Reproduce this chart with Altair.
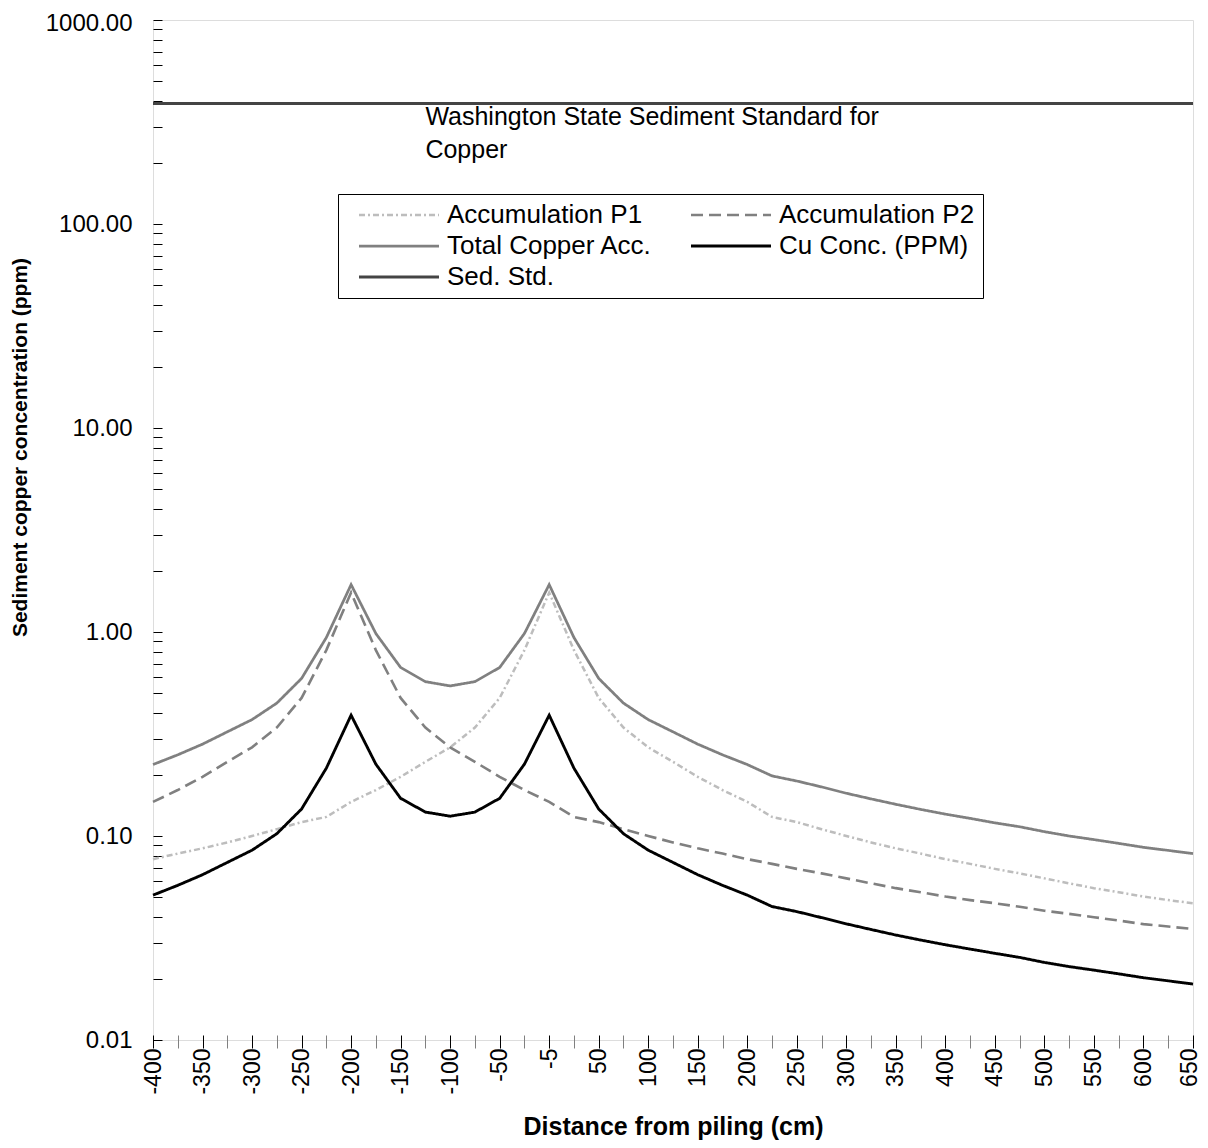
import altair as alt
import pandas as pd

# Distance categories (cm) along the x axis
distances = ["-400", "-375", "-350", "-325", "-300", "-275", "-250", "-225", "-200",
             "-175", "-150", "-125", "-100", "-75", "-50", "-25", "-5", "25", "50",
             "75", "100", "125", "150", "175", "200", "225", "250", "275", "300",
             "325", "350", "375", "400", "425", "450", "475", "500", "525", "550",
             "575", "600", "625", "650"]
labeled = ["-400", "-350", "-300", "-250", "-200", "-150", "-100", "-50", "-5", "50",
           "100", "150", "200", "250", "300", "350", "400", "450", "500", "550", "600", "650"]

acc_p1 = [0.077, 0.082, 0.087, 0.093, 0.100, 0.108, 0.117, 0.124, 0.147, 0.168, 0.195,
          0.231, 0.272, 0.340, 0.475, 0.815, 1.56, 0.815, 0.475, 0.340, 0.272, 0.231,
          0.195, 0.168, 0.147, 0.124, 0.117, 0.108, 0.100, 0.093, 0.087, 0.082, 0.077,
          0.073, 0.069, 0.0656, 0.062, 0.0586, 0.0555, 0.053, 0.0505, 0.0485, 0.0468]
acc_p2 = [0.147, 0.168, 0.195, 0.231, 0.272, 0.340, 0.475, 0.815, 1.56, 0.815, 0.475,
          0.340, 0.272, 0.231, 0.195, 0.168, 0.147, 0.124, 0.117, 0.108, 0.100, 0.093,
          0.087, 0.082, 0.077, 0.073, 0.069, 0.0656, 0.062, 0.0586, 0.0555, 0.053, 0.0505,
          0.0485, 0.0468, 0.045, 0.043, 0.0415, 0.040, 0.0385, 0.037, 0.036, 0.035]
total_cu = [0.224, 0.250, 0.282, 0.324, 0.372, 0.448, 0.592, 0.939, 1.707, 0.983, 0.670,
            0.571, 0.544, 0.571, 0.670, 0.983, 1.707, 0.939, 0.592, 0.448, 0.372, 0.324,
            0.282, 0.250, 0.224, 0.197, 0.186, 0.174, 0.162, 0.152, 0.143, 0.135, 0.128,
            0.122, 0.116, 0.111, 0.105, 0.100, 0.096, 0.092, 0.088, 0.085, 0.082]
cu_conc = [0.0513, 0.0573, 0.0646, 0.0742, 0.0852, 0.1026, 0.1356, 0.215, 0.391, 0.225,
           0.153, 0.131, 0.125, 0.131, 0.153, 0.225, 0.391, 0.215, 0.1356, 0.1026, 0.0852,
           0.0742, 0.0646, 0.0573, 0.0513, 0.0451, 0.0426, 0.0398, 0.0371, 0.0348, 0.0327,
           0.0309, 0.0293, 0.0279, 0.0266, 0.0254, 0.0240, 0.0229, 0.0220, 0.0211, 0.0202,
           0.0195, 0.0188]
sed_std_value = 390.0
sed_std = [sed_std_value] * len(distances)

series_names = ["Accumulation P1", "Accumulation P2", "Total Copper Acc.",
                "Cu Conc. (PPM)", "Sed. Std."]
series_values = [acc_p1, acc_p2, total_cu, cu_conc, sed_std]
series_colors = ["#bdbdbd", "#808080", "#808080", "#000000", "#444444"]
series_dashes = [[6, 3, 2, 3], [12, 6], [1, 0], [1, 0], [1, 0]]
series_widths = [2.5, 3, 1.5, 1.5, 1.0]

annotation_lines = ["Washington State Sediment Standard for", "Copper"]

rows = []
for name, vals in zip(series_names, series_values):
    for d, v in zip(distances, vals):
        rows.append({"distance": d, "value": v, "series": name})
df = pd.DataFrame(rows)

FONT = "Liberation Sans"

y_ticks = [m * 10.0 ** e for e in range(-2, 3) for m in range(1, 10)] + [1000.0]

x_enc = alt.X(
    "distance:O",
    sort=distances,
    scale=alt.Scale(type="point", padding=0),
    axis=alt.Axis(
        title="Distance from piling (cm)",
        titleFont=FONT, titleFontSize=25, titleFontWeight="bold", titleColor="black",
        titlePadding=20,
        labelAngle=-90, labelFont=FONT, labelFontSize=23, labelColor="black",
        labelExpr="indexof(" + str(labeled) + ", datum.value) >= 0 ? datum.value : ''",
        labelOverlap=False, labelPadding=0,
        labelOffset={"condition": {"test": "datum.value == '650'", "value": -4}, "value": 0},
        tickSize=13, offset=-5, domain=False,
        tickColor={"condition": {"test": "indexof(" + str(labeled) + ", datum.value) >= 0",
                                 "value": "black"}, "value": "#808080"},
    ),
)

y_enc = alt.Y(
    "value:Q",
    scale=alt.Scale(type="log", domain=[0.01, 1000], nice=False),
    axis=alt.Axis(
        title="Sediment copper concentration (ppm)",
        titleFont=FONT, titleFontSize=21, titleFontWeight="bold", titleColor="black",
        titlePadding=15, titleY=427,
        values=y_ticks,
        labelExpr="abs(log(datum.value)/LN10 - round(log(datum.value)/LN10)) < 1e-6 ? format(datum.value, '.2f') : ''",
        labelFont=FONT, labelFontSize=24, labelColor="black",
        labelOverlap=False, labelFlush=False, labelPadding=21,
        labelOffset={"condition": {"test": "datum.value > 999", "value": 3}, "value": 0},
        tickSize=9, offset=-9, domain=False, tickColor="black", grid=False,
    ),
)

lines = alt.Chart(df).mark_line(strokeCap="butt").encode(
    x=x_enc,
    y=y_enc,
    color=alt.Color(
        "series:N",
        sort=series_names,
        scale=alt.Scale(domain=series_names, range=series_colors),
        legend=alt.Legend(
            title=None, orient="none", legendX=185, legendY=174,
            direction="horizontal",
            columns=2, columnPadding=25, rowPadding=5,
            symbolType="M-4,0H4", symbolSize=400, symbolOffset=40,
            labelOffset=35, labelFont=FONT, labelFontSize=26, labelColor="black",
            labelLimit=400,
            strokeColor="black", fillColor="white", padding=8, cornerRadius=0,
        ),
    ),
    strokeDash=alt.StrokeDash(
        "series:N", sort=series_names,
        scale=alt.Scale(domain=series_names, range=series_dashes),
    ),
    strokeWidth=alt.StrokeWidth(
        "series:N", sort=series_names,
        scale=alt.Scale(domain=series_names, range=series_widths),
    ),
    order=alt.Order("idx:Q"),
).transform_calculate(idx="indexof(" + str(distances) + ", datum.distance)")

ann_df = pd.DataFrame({"distance": ["-125"], "value": [335.0],
                       "text": [annotation_lines]})
annotation = alt.Chart(ann_df).mark_text(
    align="left", baseline="middle", font=FONT, fontSize=25, lineHeight=33,
    color="black",
).encode(
    x=alt.X("distance:O", sort=distances),
    y=alt.Y("value:Q"),
    text="text",
)

chart = alt.layer(lines, annotation).properties(
    width=1040, height=1020,
    padding={"left": 145, "top": 12, "right": 7, "bottom": 100},
    autosize="none",
).configure_view(stroke="black", strokeWidth=1).configure(background="white")

chart.save("out.html", embed_options={"renderer": "svg", "actions": False})
